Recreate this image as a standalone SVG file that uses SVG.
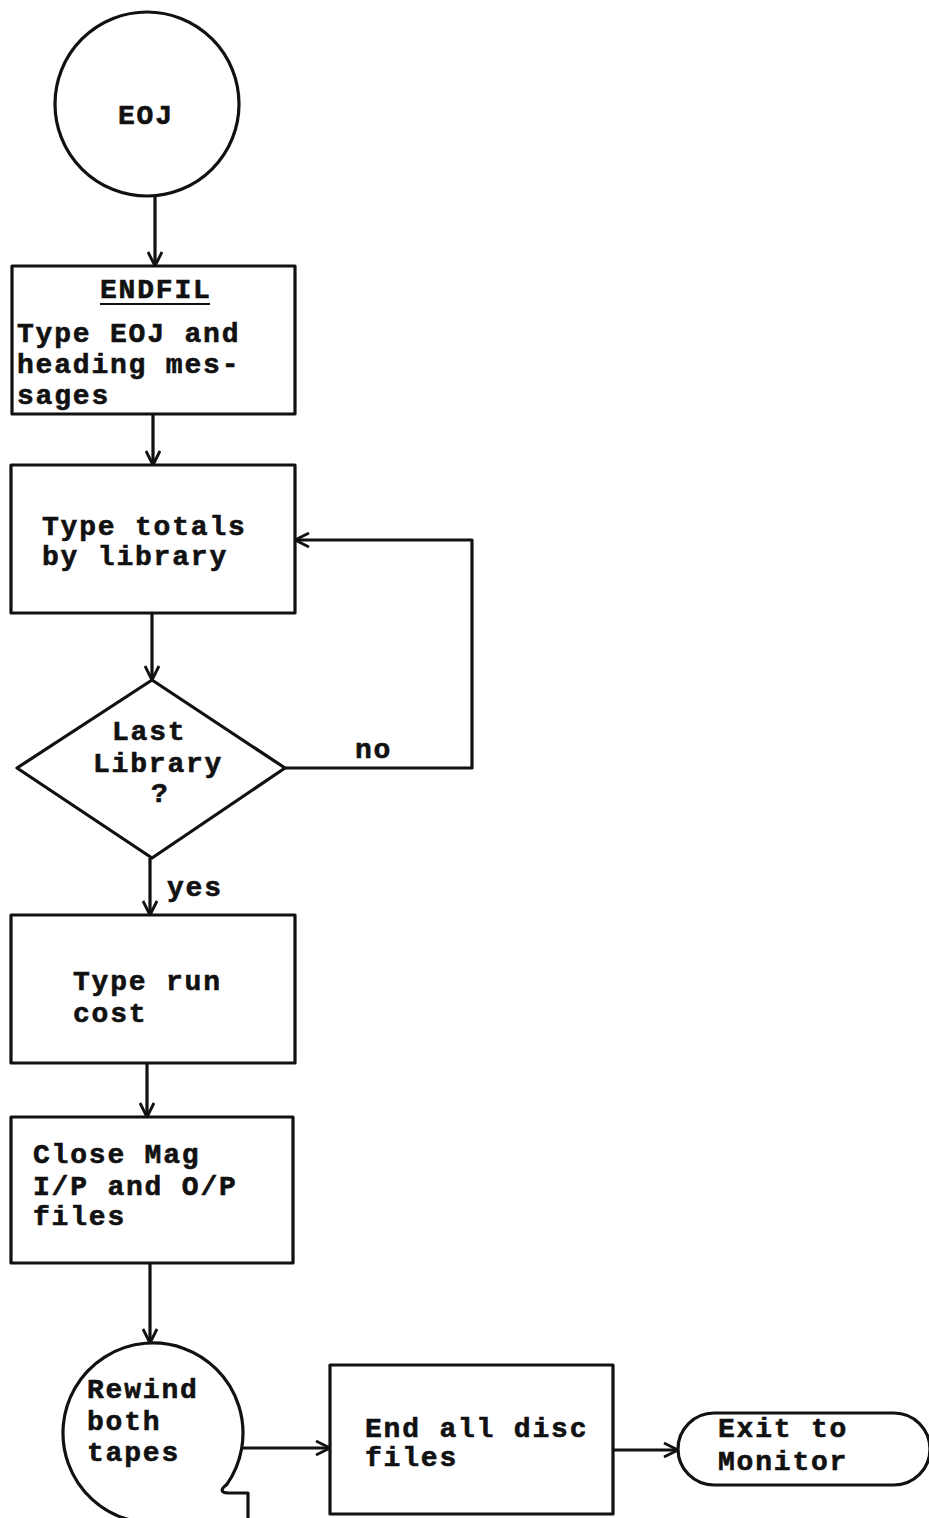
<svg xmlns="http://www.w3.org/2000/svg" width="929" height="1518" viewBox="0 0 929 1518">
<defs>
<style>
.s{fill:none;stroke:#111;stroke-width:3.2;stroke-linejoin:round;stroke-linecap:round}
.c{fill:none;stroke:#111;stroke-width:3.2}
.t{font-family:"Liberation Mono","DejaVu Sans Mono",monospace;font-weight:bold;font-size:28px;letter-spacing:1.8px;fill:#111;stroke:#111;stroke-width:0.6px}
</style>
<marker id="ah" markerUnits="userSpaceOnUse" viewBox="0 0 16 16" refX="15" refY="8" markerWidth="16" markerHeight="16" orient="auto">
<path d="M1,1 L15,8 L1,15" fill="none" stroke="#111" stroke-width="2.8" stroke-linejoin="round"/>
</marker>
</defs>
<rect width="929" height="1518" fill="#fff"/>

<g id="eoj">
<circle class="s" cx="147" cy="104" r="92"/>
<text class="t" x="118" y="124">EOJ</text>
</g>

<g id="endfil">
<rect class="s" x="12" y="266" width="283" height="148"/>
<text class="t" x="100" y="298">ENDFIL</text>
<line x1="100" y1="304" x2="210" y2="304" stroke="#111" stroke-width="2.2"/>
<text class="t" x="17" y="342">Type EOJ and</text>
<text class="t" x="17" y="373">heading mes-</text>
<text class="t" x="17" y="404">sages</text>
</g>

<g id="totals">
<rect class="s" x="11" y="465" width="284" height="148"/>
<text class="t" x="42" y="535">Type totals</text>
<text class="t" x="42" y="565">by library</text>
</g>

<g id="lastlib">
<polygon class="s" points="152,680 285,768 152,858 17,768"/>
<text class="t" x="112" y="740">Last</text>
<text class="t" x="93" y="772">Library</text>
<text class="t" x="151" y="802">?</text>
</g>

<g id="runcost">
<rect class="s" x="11" y="915" width="284" height="148"/>
<text class="t" x="73" y="990">Type run</text>
<text class="t" x="73" y="1022">cost</text>
</g>

<g id="closemag">
<rect class="s" x="11" y="1117" width="282" height="146"/>
<text class="t" x="33" y="1163">Close Mag</text>
<text class="t" x="33" y="1195">I/P and O/P</text>
<text class="t" x="33" y="1225">files</text>
</g>

<g id="rewind">
<path class="s" d="M226.7,1484.6 A90,90 0 1 0 168.6,1521.6"/>
<path class="s" d="M226.7,1484.6 Q217,1492 228,1493 L248,1493 L248,1520"/>
<text class="t" x="87" y="1398">Rewind</text>
<text class="t" x="87" y="1430">both</text>
<text class="t" x="87" y="1461">tapes</text>
</g>

<g id="enddisc">
<rect class="s" x="330" y="1365" width="283" height="149"/>
<text class="t" x="365" y="1437">End all disc</text>
<text class="t" x="365" y="1466">files</text>
</g>

<g id="exit">
<rect class="s" x="678" y="1413" width="252" height="72" rx="36" ry="36"/>
<text class="t" x="718" y="1437">Exit to</text>
<text class="t" x="718" y="1470">Monitor</text>
</g>

<g id="connectors">
<line class="c" x1="155" y1="196" x2="155" y2="266" marker-end="url(#ah)"/>
<line class="c" x1="153" y1="414" x2="153" y2="465" marker-end="url(#ah)"/>
<line class="c" x1="152" y1="613" x2="152" y2="680" marker-end="url(#ah)"/>
<polyline class="c" points="285,768 472,768 472,540 295,540" stroke-linejoin="round" marker-end="url(#ah)"/>
<line class="c" x1="150" y1="858" x2="150" y2="915" marker-end="url(#ah)"/>
<line class="c" x1="147" y1="1063" x2="147" y2="1117" marker-end="url(#ah)"/>
<line class="c" x1="150" y1="1263" x2="150" y2="1343" marker-end="url(#ah)"/>
<line class="c" x1="243" y1="1448" x2="330" y2="1448" marker-end="url(#ah)"/>
<line class="c" x1="613" y1="1450" x2="678" y2="1450" marker-end="url(#ah)"/>
<text class="t" x="355" y="758">no</text>
<text class="t" x="167" y="896">yes</text>
</g>
</svg>
